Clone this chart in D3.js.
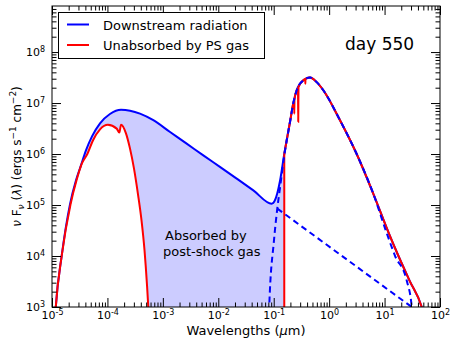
<!DOCTYPE html>
<html>
<head>
<meta charset="utf-8">
<script src="https://cdn.jsdelivr.net/npm/d3@7"></script>
<style>
  body { margin: 0; background: #fff; }
  svg text { font-family: "DejaVu Sans", sans-serif; fill: #000; }
</style>
</head>
<body>
<div id="viz"></div>
<script>
var margin = {top: 6, right: 17, bottom: 41, left: 52},
    width = 457,
    height = 348;

// wavelength (micron), nu F_nu (ergs s^-1 cm^-2)
var totalSpec = [
  [1.07e-5, 200], [1.17e-5, 1e3], [1.50e-5, 1.03e4], [2.11e-5, 1.03e5], [2.71e-5, 3.05e5],
  [3.33e-5, 6.0e5], [4.10e-5, 1.18e6], [5.27e-5, 2.22e6], [7.35e-5, 4.0e6], [1.11e-4, 6.1e6],
  [1.76e-4, 7.4e6], [3.87e-4, 6.2e6], [6.73e-4, 4.6e6], [1.35e-3, 2.7e6], [2.69e-3, 1.6e6],
  [5.37e-3, 9.4e5], [1.07e-2, 5.6e5], [2.15e-2, 3.3e5], [4.29e-2, 1.94e5], [0.092, 1.06e5],
  [0.105, 1.23e5], [0.116, 1.7e5], [0.130, 3.0e5], [0.155, 1.0e6], [0.197, 4.3e6],
  [0.226, 1.0e7], [0.260, 1.78e7], [0.342, 2.79e7], [0.452, 3.16e7], [0.596, 2.57e7],
  [0.785, 1.78e7], [1.57, 4.6e6], [3.14, 1.0e6], [6.27, 1.66e5], [12.0, 2.75e4],
  [17.8, 1.0e4], [28.2, 3.3e3], [46.8, 1.0e3], [52.5, 630]
];

// unabsorbed by post-shock gas
var redLeft = [
  [1.07e-5, 200], [1.17e-5, 1e3], [1.50e-5, 1.03e4], [2.16e-5, 1.03e5], [2.77e-5, 3.05e5],
  [3.48e-5, 6.6e5], [4.34e-5, 1.0e6], [5.50e-5, 1.86e6], [7.35e-5, 3.05e6], [1.02e-4, 3.74e6],
  [1.47e-4, 3.15e6], [1.64e-4, 2.63e6], [1.76e-4, 3.77e6], [2.16e-4, 2.55e6], [2.55e-4, 1.29e6],
  [3.01e-4, 5.23e5], [3.56e-4, 1.62e5], [4.12e-4, 5.0e4], [4.67e-4, 1.29e4], [5.18e-4, 2.66e3],
  [5.46e-4, 1.0e3], [5.74e-4, 300]
];
var redCut = 0.155;
var redRight = [
  [0.155, 1.0e6], [0.197, 4.3e6], [0.226, 1.0e7], [0.233, 1.15e7], [0.235, 6.2e6],
  [0.237, 1.2e7], [0.260, 1.78e7], [0.274, 1.95e7], [0.277, 4.3e6], [0.280, 2.05e7],
  [0.342, 2.79e7], [0.370, 2.95e7], [0.372, 2.4e7], [0.374, 2.98e7], [0.452, 3.16e7],
  [0.596, 2.57e7], [0.785, 1.78e7], [1.57, 4.6e6], [3.14, 1.0e6], [6.27, 1.66e5],
  [12.0, 2.75e4], [17.8, 1.0e4], [28.2, 3.3e3], [46.8, 1.0e3], [52.5, 630]
];

// dashed components
var compB = [
  [0.080, 200], [0.083, 1e3], [0.101, 2.0e4], [0.116, 8.5e4], [0.130, 2.2e5],
  [0.155, 9.3e5], [0.197, 4.3e6], [0.226, 1.0e7], [0.260, 1.78e7], [0.342, 2.79e7],
  [0.452, 3.16e7], [0.596, 2.57e7], [0.785, 1.78e7], [1.57, 4.6e6], [3.14, 1.0e6],
  [6.27, 1.66e5], [11.0, 2.75e4], [15.5, 1.0e4], [25.1, 3.3e3], [30.9, 1.0e3], [33.1, 300]
];
var compA = [[0.116, 8.5e4], [30.9, 1.0e3]];

var xMajor = [1e-5, 1e-4, 1e-3, 1e-2, 1e-1, 1e0, 1e1, 1e2];
var yMajor = [1e3, 1e4, 1e5, 1e6, 1e7, 1e8];
var minorMult = [2, 3, 4, 5, 6, 7, 8, 9];

var xMinor = [], yMinor = [];
xMajor.slice(0, -1).forEach(function(d) { minorMult.forEach(function(m) { xMinor.push(d * m); }); });
yMajor.forEach(function(d) { minorMult.forEach(function(m) { if (d * m < 8e8) yMinor.push(d * m); }); });

var x = d3.scaleLog().domain([1e-5, 1e2]).range([margin.left, width - margin.right]);
var y = d3.scaleLog().domain([1e3, 8e8]).range([height - margin.bottom, margin.top]);

var line = d3.line()
  .x(function(d) { return x(d[0]); })
  .y(function(d) { return y(d[1]); })
  .curve(d3.curveMonotoneX);

var straight = d3.line()
  .x(function(d) { return x(d[0]); })
  .y(function(d) { return y(d[1]); });

var svg = d3.select('#viz').append('svg')
  .attr('width', width)
  .attr('height', height);

svg.append('defs').append('clipPath').attr('id', 'plotclip')
  .append('rect')
  .attr('x', margin.left).attr('y', margin.top)
  .attr('width', width - margin.left - margin.right)
  .attr('height', height - margin.top - margin.bottom);

var plot = svg.append('g').attr('clip-path', 'url(#plotclip)');

// absorbed region: between total and unabsorbed, up to the cut
var totalToCut = totalSpec.filter(function(d) { return d[0] <= redCut; });
var fillPath = line(totalToCut) + 'L' + x(redCut) + ',' + y(300) + 'L' + line(redLeft.slice().reverse()).slice(1) + 'Z';

plot.append('path')
  .attr('d', fillPath)
  .attr('fill', '#ccccff')
  .attr('stroke', 'none');

plot.append('path')
  .datum(totalSpec)
  .attr('d', line)
  .attr('fill', 'none')
  .attr('stroke', '#0000ff')
  .attr('stroke-width', 2);

plot.append('path')
  .datum(redLeft)
  .attr('d', line)
  .attr('fill', 'none')
  .attr('stroke', '#ff0000')
  .attr('stroke-width', 2);

plot.append('line')
  .attr('x1', x(redCut)).attr('x2', x(redCut))
  .attr('y1', y(300)).attr('y2', y(redRight[0][1]))
  .attr('stroke', '#ff0000')
  .attr('stroke-width', 2);

plot.append('path')
  .datum(redRight)
  .attr('d', line)
  .attr('fill', 'none')
  .attr('stroke', '#ff0000')
  .attr('stroke-width', 2);

plot.append('path')
  .datum(compB)
  .attr('d', line)
  .attr('fill', 'none')
  .attr('stroke', '#0000ff')
  .attr('stroke-width', 2)
  .attr('stroke-dasharray', '6,4');

plot.append('path')
  .datum(compA)
  .attr('d', straight)
  .attr('fill', 'none')
  .attr('stroke', '#0000ff')
  .attr('stroke-width', 2)
  .attr('stroke-dasharray', '6,4');

// axes, ticks pointing inward
function noDomain(g) { g.select('.domain').remove(); g.selectAll('line').attr('stroke', '#000'); }

function powLabel(g) {
  g.selectAll('.tick text').each(function(d) {
    var t = d3.select(this).text(null);
    t.append('tspan').text('10');
    t.append('tspan').attr('dy', '-0.45em').attr('font-size', '8px')
      .text(Math.round(Math.log10(d)));
  });
}

var yb = height - margin.bottom, xr = width - margin.right;

svg.append('g').attr('transform', 'translate(0,' + yb + ')')
  .call(d3.axisBottom(x).tickValues(xMajor).tickSize(-9).tickPadding(4))
  .call(noDomain).call(powLabel)
  .attr('font-size', 11).attr('font-family', 'DejaVu Sans');
svg.append('g').attr('transform', 'translate(0,' + yb + ')')
  .call(d3.axisBottom(x).tickValues(xMinor).tickSize(-4.5).tickFormat(''))
  .call(noDomain);
svg.append('g').attr('transform', 'translate(0,' + margin.top + ')')
  .call(d3.axisTop(x).tickValues(xMajor).tickSize(-9).tickFormat(''))
  .call(noDomain);
svg.append('g').attr('transform', 'translate(0,' + margin.top + ')')
  .call(d3.axisTop(x).tickValues(xMinor).tickSize(-4.5).tickFormat(''))
  .call(noDomain);

svg.append('g').attr('transform', 'translate(' + margin.left + ',0)')
  .call(d3.axisLeft(y).tickValues(yMajor).tickSize(-9).tickPadding(7))
  .call(noDomain).call(powLabel)
  .attr('font-size', 11).attr('font-family', 'DejaVu Sans');
svg.append('g').attr('transform', 'translate(' + margin.left + ',0)')
  .call(d3.axisLeft(y).tickValues(yMinor).tickSize(-4.5).tickFormat(''))
  .call(noDomain);
svg.append('g').attr('transform', 'translate(' + xr + ',0)')
  .call(d3.axisRight(y).tickValues(yMajor).tickSize(-9).tickFormat(''))
  .call(noDomain);
svg.append('g').attr('transform', 'translate(' + xr + ',0)')
  .call(d3.axisRight(y).tickValues(yMinor).tickSize(-4.5).tickFormat(''))
  .call(noDomain);

svg.append('rect')
  .attr('x', margin.left).attr('y', margin.top)
  .attr('width', xr - margin.left).attr('height', yb - margin.top)
  .attr('fill', 'none').attr('stroke', '#000').attr('stroke-width', 1);

// axis titles
var xt = svg.append('text')
  .attr('x', (margin.left + xr) / 2).attr('y', 335)
  .attr('text-anchor', 'middle').attr('font-size', 13);
xt.append('tspan').text('Wavelengths (');
xt.append('tspan').attr('font-style', 'italic').text('μ');
xt.append('tspan').text('m)');

var yt = svg.append('text')
  .attr('transform', 'translate(21,' + ((margin.top + yb) / 2) + ') rotate(-90)')
  .attr('text-anchor', 'middle').attr('font-size', 12);
yt.append('tspan').attr('font-style', 'italic').text('ν');
yt.append('tspan').text(' F');
yt.append('tspan').attr('font-style', 'italic').attr('font-size', 9).attr('dy', 3).text('ν');
yt.append('tspan').attr('dy', -3).text(' (');
yt.append('tspan').attr('font-style', 'italic').text('λ');
yt.append('tspan').text(') (ergs s');
yt.append('tspan').attr('font-size', 9).attr('dy', -5).text('−1');
yt.append('tspan').attr('dy', 5).text(' cm');
yt.append('tspan').attr('font-size', 9).attr('dy', -5).text('−2');
yt.append('tspan').attr('dy', 5).text(')');

// annotations
svg.append('text').attr('x', 345).attr('y', 50).attr('font-size', 17).text('day 550');
svg.append('text').attr('x', 165).attr('y', 240).attr('font-size', 13).text('Absorbed by');
svg.append('text').attr('x', 163).attr('y', 256).attr('font-size', 13).text('post-shock gas');

// legend
var legendItems = [
  {label: 'Downstream radiation', color: '#0000ff'},
  {label: 'Unabsorbed by PS gas', color: '#ff0000'}
];
var legend = svg.append('g').attr('class', 'legend');
legend.append('rect')
  .attr('x', 58.5).attr('y', 12.5).attr('width', 206).attr('height', 46)
  .attr('fill', '#fff').attr('stroke', '#000').attr('stroke-width', 1);
var li = legend.selectAll('g.item').data(legendItems).enter().append('g')
  .attr('transform', function(d, i) { return 'translate(0,' + (24.5 + i * 20.5) + ')'; });
li.append('line').attr('x1', 67).attr('x2', 89).attr('stroke', function(d) { return d.color; }).attr('stroke-width', 2);
li.append('text').attr('x', 103).attr('y', 5).attr('font-size', 13).text(function(d) { return d.label; });
</script>
</body>
</html>
